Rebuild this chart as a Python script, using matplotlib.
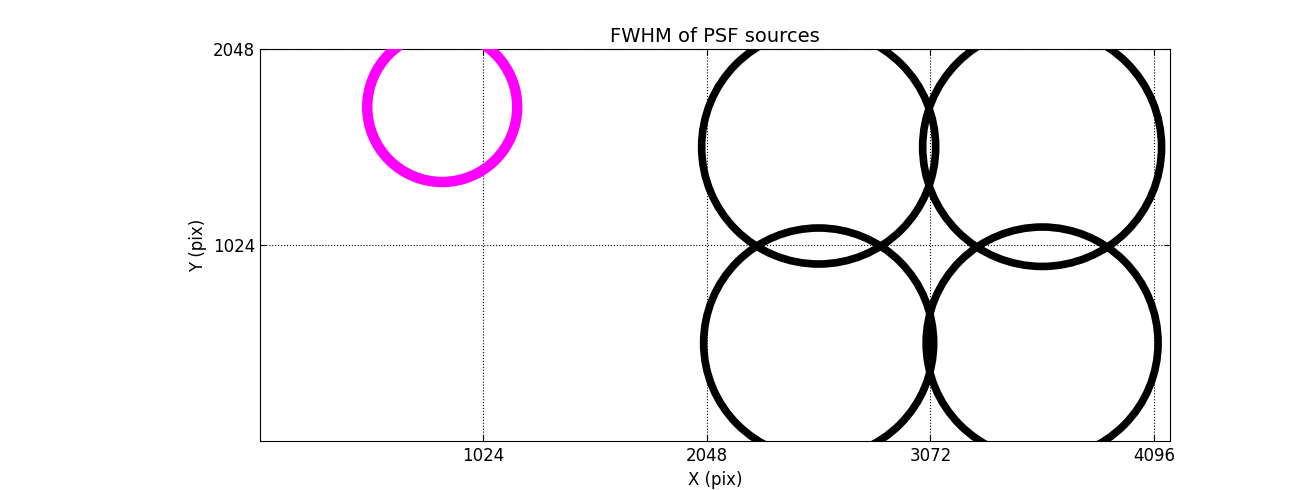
import matplotlib
matplotlib.use("Agg")
import matplotlib.pyplot as plt

# source positions (pix) and FWHM (marker diameter, pt)
src_x = [2560, 3584, 2560, 3584]
src_y = [1536, 1536, 512, 512]
src_fwhm = [168.5, 172.0, 165.6, 167.0]

# reference star
ref_x = [835]
ref_y = [1745]
ref_fwhm = [108.0]

xticks = [1024, 2048, 3072, 4096]
yticks = [1024, 2048]

plt.rcParams['font.family'] = 'DejaVu Sans'
plt.rcParams['font.size'] = 12

fig = plt.figure(figsize=(13, 4.9), dpi=100)
ax = fig.add_axes([0.2, 0.1, 0.7, 0.8])

ax.scatter(src_x, src_y, s=[f**2 for f in src_fwhm], facecolors='none',
           edgecolors='k', linewidths=5.5, zorder=3)
ax.scatter(ref_x, ref_y, s=[f**2 for f in ref_fwhm], facecolors='none',
           edgecolors='magenta', linewidths=7.5, zorder=3)

ax.set_xlim(0, 4170)
ax.set_ylim(0, 2048)
ax.set_xticks(xticks)
ax.set_yticks(yticks)
ax.tick_params(direction='in', length=4, width=0.8, top=True, right=True, labelsize=12)
ax.tick_params(axis='x', pad=4.5)
ax.grid(True, color='k', linestyle=':', linewidth=0.8)
ax.set_axisbelow(True)

ax.set_xlabel("X (pix)", fontsize=12, labelpad=4)
ax.set_ylabel("Y (pix)", fontsize=12)
ax.set_title("FWHM of PSF sources", fontsize=14, pad=5)

fig.savefig("out.png", dpi=100)
